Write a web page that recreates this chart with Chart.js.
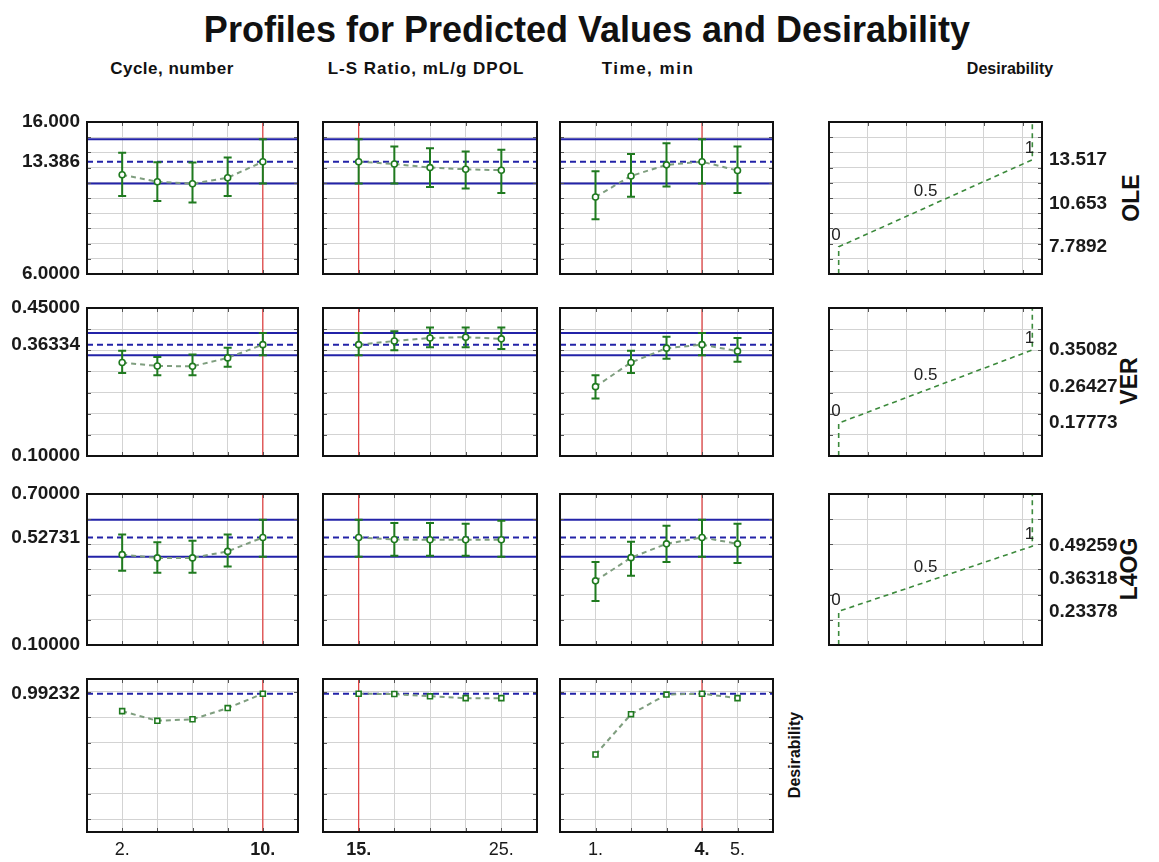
<!DOCTYPE html>
<html><head><meta charset="utf-8">
<script src="https://cdn.jsdelivr.net/npm/chart.js@4.4.1/dist/chart.umd.min.js"></script>
<style>
body{margin:0;background:#fff;width:1159px;height:862px;position:relative;overflow:hidden;font-family:"Liberation Sans",Arial,sans-serif;}
.t{position:absolute;white-space:nowrap;color:#111;font-weight:bold;transform:translate(-50%,-50%);}
.r{position:absolute;white-space:nowrap;color:#111;font-weight:bold;transform:translate(-50%,-50%) rotate(-90deg);}
canvas{position:absolute;}
</style></head><body>
<div class="t" style="left:587px;top:30px;font-size:36px;">Profiles for Predicted Values and Desirability</div>
<div class="t" style="left:172px;top:69px;font-size:17px;letter-spacing:0.5px;">Cycle, number</div>
<div class="t" style="left:426px;top:69px;font-size:17px;letter-spacing:1px;">L-S Ratio, mL/g DPOL</div>
<div class="t" style="left:648px;top:69px;font-size:17px;letter-spacing:1.5px;">Time, min</div>
<div class="t" style="left:1010px;top:69px;font-size:16px;">Desirability</div>
<div class="r" style="left:1131px;top:198px;font-size:23px;">OLE</div>
<div class="r" style="left:1129px;top:381px;font-size:23px;">VER</div>
<div class="r" style="left:1129px;top:569px;font-size:23px;">L4OG</div>
<div class="r" style="left:795px;top:755px;font-size:16px;">Desirability</div>
<script>
// ---------- factor levels ----------
const cycleX = [2, 4, 6, 8, 10];
const ratioX = [15, 17.5, 20, 22.5, 25];
const timeX  = [1, 2, 3, 4, 5];
const currentX = [10, 15, 4];
const cycleLabeled = [2, 10];
const ratioLabeled = [15, 25];
const timeLabeled  = [1, 4, 5];

// ---------- OLE ----------
const oleCycle   = [12.53, 12.07, 11.94, 12.33, 13.386];
const oleCycleLo = [11.13, 10.81, 10.70, 11.13, 11.95];
const oleCycleHi = [13.98, 13.35, 13.33, 13.66, 14.86];
const oleRatio   = [13.386, 13.24, 13.00, 12.89, 12.83];
const oleRatioLo = [11.95, 11.95, 11.73, 11.62, 11.33];
const oleRatioHi = [14.86, 14.39, 14.28, 14.06, 14.17];
const oleTime    = [11.07, 12.45, 13.18, 13.386, 12.81];
const oleTimeLo  = [9.60, 11.09, 11.76, 11.95, 11.33];
const oleTimeHi  = [12.76, 13.90, 14.60, 14.86, 14.39];
const oleBand = [11.95, 14.86];
const oleTickVals = [16, 13.386, 6];
const oleTickText = ['16.000', '13.386', '6.0000'];
const oleDesVals = [7.7892, 10.653, 13.517];
const oleDesText = ['7.7892', '10.653', '13.517'];

// ---------- VER ----------
const verCycle   = [0.321, 0.313, 0.312, 0.332, 0.36334];
const verCycleLo = [0.296, 0.291, 0.291, 0.311, 0.338];
const verCycleHi = [0.349, 0.334, 0.340, 0.356, 0.391];
const verRatio   = [0.36334, 0.372, 0.379, 0.381, 0.377];
const verRatioLo = [0.338, 0.350, 0.357, 0.357, 0.353];
const verRatioHi = [0.391, 0.395, 0.404, 0.404, 0.404];
const verTime    = [0.264, 0.321, 0.355, 0.36334, 0.348];
const verTimeLo  = [0.236, 0.296, 0.330, 0.338, 0.323];
const verTimeHi  = [0.291, 0.349, 0.382, 0.391, 0.379];
const verBand = [0.338, 0.391];
const verTickVals = [0.45, 0.36334, 0.10];
const verTickText = ['0.45000', '0.36334', '0.10000'];
const verDesVals = [0.17773, 0.26427, 0.35082];
const verDesText = ['0.17773', '0.26427', '0.35082'];

// ---------- L4OG ----------
const l4Cycle   = [0.459, 0.446, 0.446, 0.472, 0.52731];
const l4CycleLo = [0.395, 0.387, 0.387, 0.412, 0.451];
const l4CycleHi = [0.539, 0.508, 0.514, 0.539, 0.598];
const l4Ratio   = [0.52731, 0.519, 0.518, 0.518, 0.518];
const l4RatioLo = [0.451, 0.455, 0.455, 0.455, 0.451];
const l4RatioHi = [0.598, 0.585, 0.585, 0.582, 0.594];
const l4Time    = [0.355, 0.447, 0.502, 0.52731, 0.502];
const l4TimeLo  = [0.275, 0.375, 0.430, 0.451, 0.426];
const l4TimeHi  = [0.430, 0.510, 0.574, 0.598, 0.582];
const l4Band = [0.451, 0.598];
const l4TickVals = [0.70, 0.52731, 0.10];
const l4TickText = ['0.70000', '0.52731', '0.10000'];
const l4DesVals = [0.23378, 0.36318, 0.49259];
const l4DesText = ['0.23378', '0.36318', '0.49259'];

// ---------- Desirability ----------
const desCycle = [0.924, 0.886, 0.892, 0.936, 0.99232];
const desRatio = [0.99232, 0.991, 0.982, 0.975, 0.975];
const desTime  = [0.754, 0.912, 0.989, 0.99232, 0.975];
const desTickVals = [0.99232];
const desTickText = ['0.99232'];

// desirability function levels
const desLevels = [0, 0.5, 1];
const desLevelText = ['0', '0.5', '1'];

// ---------- axes ----------
const yRanges = [[6, 16], [0.10, 0.45], [0.10, 0.70], [0.45, 1.05]];
const yGrid = [
  [7, 8, 9, 10, 11, 12, 13, 14, 15],
  [0.15, 0.20, 0.25, 0.30, 0.35, 0.40],
  [0.2, 0.3, 0.4, 0.5, 0.6],
  [0.5, 0.6, 0.7, 0.8, 0.9, 1.0]
];
const xRanges = [[0, 12], [12.5, 27.5], [0, 6], [-0.05, 1.05]];
const desXGrid = [0.15, 0.35, 0.55, 0.75, 0.95];

// ---------- layout (plot area rectangles) ----------
const colX = [87, 323, 560, 829], colW = [211, 214, 213, 213];
const rowY = [122, 308, 494, 679], rowH = [152, 148, 151, 153];

const GRID = '#d3d3d3', GREEN = '#1f7a1f', LINEG = '#7f9e7f', BLUE = '#2323a8', RED = '#e23a3a';
Chart.defaults.font.family = '"Liberation Sans", Arial, sans-serif';

const xs = [cycleX, ratioX, timeX];
const xLab = [cycleLabeled, ratioLabeled, timeLabeled];
const rows = [
  {y: [oleCycle, oleRatio, oleTime], lo: [oleCycleLo, oleRatioLo, oleTimeLo], hi: [oleCycleHi, oleRatioHi, oleTimeHi], band: oleBand, tv: oleTickVals, tt: oleTickText, dv: oleDesVals, dt: oleDesText},
  {y: [verCycle, verRatio, verTime], lo: [verCycleLo, verRatioLo, verTimeLo], hi: [verCycleHi, verRatioHi, verTimeHi], band: verBand, tv: verTickVals, tt: verTickText, dv: verDesVals, dt: verDesText},
  {y: [l4Cycle, l4Ratio, l4Time], lo: [l4CycleLo, l4RatioLo, l4TimeLo], hi: [l4CycleHi, l4RatioHi, l4TimeHi], band: l4Band, tv: l4TickVals, tt: l4TickText, dv: l4DesVals, dt: l4DesText},
  {y: [desCycle, desRatio, desTime], lo: null, hi: null, band: null, tv: desTickVals, tt: desTickText, dv: null, dt: null}
];

const near = (a, b) => Math.abs(a - b) < 1e-9;
const inList = (v, list) => list.some(l => near(l, v));

function makePanel(r, c) {
  const R = rows[r];
  const L = c === 0 ? colX[0] : 6;
  const RR = c === 3 ? 115 : 6;
  const T = 24;
  const B = r === 3 ? 30 : 24;
  const W = colW[c] + L + RR, H = rowH[r] + T + B;
  const cv = document.createElement('canvas');
  cv.width = W; cv.height = H;
  cv.style.left = (colX[c] - L) + 'px'; cv.style.top = (rowY[r] - T) + 'px';
  cv.style.width = W + 'px'; cv.style.height = H + 'px';
  document.body.appendChild(cv);

  const [ymin, ymax] = yRanges[r];
  const [xmin, xmax] = xRanges[c];
  const datasets = [];
  let yTickVals, yTickText, xGridVals, errX = null, errLo = null, errHi = null, labelPts = null;

  if (c < 3) {
    const X = xs[c];
    datasets.push({data: X.map((x, i) => ({x, y: R.y[c][i]})), showLine: true, borderColor: LINEG, borderWidth: 2,
      borderDash: [5, 4], pointStyle: r === 3 ? 'rect' : 'circle', pointRadius: r === 3 ? 3.5 : 3,
      pointBorderColor: GREEN, pointBackgroundColor: '#fff', pointBorderWidth: 1.6, order: 0});
    datasets.push({data: [{x: currentX[c], y: ymin}, {x: currentX[c], y: ymax}], showLine: true, borderColor: RED, borderWidth: 1.2, pointRadius: 0, order: 1});
    const pred = R.tv[r === 3 ? 0 : 1];
    datasets.push({data: [{x: xmin, y: pred}, {x: xmax, y: pred}], showLine: true, borderColor: BLUE, borderWidth: 2, borderDash: [6, 4], pointRadius: 0, order: 2});
    if (R.band) {
      R.band.forEach(b => datasets.push({data: [{x: xmin, y: b}, {x: xmax, y: b}], showLine: true, borderColor: BLUE, borderWidth: 2, pointRadius: 0, order: 2}));
      errX = X; errLo = R.lo[c]; errHi = R.hi[c];
    }
    xGridVals = X;
    yTickVals = c === 0 ? R.tv : [];
    yTickText = c === 0 ? R.tt : [];
  } else {
    const pts = [{x: desLevels[0], y: ymin}].concat(desLevels.map((d, i) => ({x: d, y: R.dv[i]}))).concat([{x: desLevels[2], y: ymax}]);
    datasets.push({data: pts, showLine: true, borderColor: '#3c8a3c', borderWidth: 1.6, borderDash: [5, 4], pointRadius: 0, order: 0});
    xGridVals = desXGrid;
    yTickVals = R.dv; yTickText = R.dt;
    labelPts = desLevels.map((d, i) => ({x: d, y: R.dv[i], t: desLevelText[i]}));
  }
  const yAll = yGrid[r].concat(yTickVals).sort((a, b) => a - b);

  const plug = {
    id: 'panel' + r + c,
    beforeDatasetDraw(chart, args) {
      if (!errX || args.index !== 0) return;
      const ctx = chart.ctx, xsS = chart.scales.x, ysS = chart.scales.y;
      ctx.save(); ctx.strokeStyle = GREEN; ctx.lineWidth = 2;
      errX.forEach((x, i) => {
        const px = xsS.getPixelForValue(x), p1 = ysS.getPixelForValue(errLo[i]), p2 = ysS.getPixelForValue(errHi[i]);
        ctx.beginPath();
        ctx.moveTo(px, p1); ctx.lineTo(px, p2);
        ctx.moveTo(px - 4, p1); ctx.lineTo(px + 4, p1);
        ctx.moveTo(px - 4, p2); ctx.lineTo(px + 4, p2);
        ctx.stroke();
      });
      ctx.restore();
    },
    afterDraw(chart) {
      const ctx = chart.ctx, a = chart.chartArea, xsS = chart.scales.x, ysS = chart.scales.y;
      ctx.save();
      ctx.strokeStyle = '#555'; ctx.lineWidth = 1;
      ctx.beginPath();
      xGridVals.forEach(v => {
        const px = Math.round(xsS.getPixelForValue(v)) + 0.5;
        ctx.moveTo(px, a.top); ctx.lineTo(px, a.top + 4);
        ctx.moveTo(px, a.bottom); ctx.lineTo(px, a.bottom - 4);
      });
      yGrid[r].forEach(v => {
        const py = Math.round(ysS.getPixelForValue(v)) + 0.5;
        ctx.moveTo(a.left, py); ctx.lineTo(a.left + 4, py);
        ctx.moveTo(a.right, py); ctx.lineTo(a.right - 4, py);
      });
      ctx.stroke();
      ctx.strokeStyle = '#111'; ctx.lineWidth = 2;
      ctx.strokeRect(a.left, a.top, a.right - a.left, a.bottom - a.top);
      if (labelPts) {
        ctx.fillStyle = '#222'; ctx.font = '17px "Liberation Sans", Arial, sans-serif';
        ctx.textAlign = 'right'; ctx.textBaseline = 'bottom';
        labelPts.forEach(p => ctx.fillText(p.t, xsS.getPixelForValue(p.x) + 2, ysS.getPixelForValue(p.y) - 3));
      }
      ctx.restore();
    }
  };

  new Chart(cv, {
    type: 'scatter',
    data: {datasets},
    options: {
      responsive: false, animation: false, devicePixelRatio: 1,
      layout: {padding: {top: T, bottom: 0, left: c === 3 ? L : 0, right: c === 3 ? 0 : RR}},
      plugins: {legend: {display: false}, tooltip: {enabled: false}},
      scales: {
        x: {
          type: 'linear', min: xmin, max: xmax,
          afterBuildTicks: s => { s.ticks = xGridVals.map(v => ({value: v})); },
          afterFit: s => { s.height = B; },
          grid: {color: GRID, drawTicks: false, lineWidth: 1},
          border: {display: false},
          ticks: {
            display: r === 3 && c < 3, autoSkip: false, maxRotation: 0, minRotation: 0, padding: 7, color: '#1a1a1a',
            callback: v => (c < 3 && inList(v, xLab[c])) ? (v + '.') : '',
            font: ctx => ({size: 18, weight: (ctx.tick && c < 3 && near(ctx.tick.value, currentX[c])) ? 'bold' : 'normal'})
          }
        },
        y: {
          type: 'linear', position: c === 3 ? 'right' : 'left', min: ymin, max: ymax,
          afterBuildTicks: s => { s.ticks = yAll.map(v => ({value: v})); },
          afterFit: s => { s.width = c === 3 ? RR : L; },
          grid: {drawTicks: false, lineWidth: 1,
            color: ctx => (ctx.tick && inList(ctx.tick.value, yGrid[r])) ? GRID : 'rgba(0,0,0,0)'},
          border: {display: false},
          ticks: {
            display: c === 0 || c === 3, autoSkip: false, padding: 7, color: '#1a1a1a',
            font: {size: 19, weight: 'bold'},
            callback: v => { const i = yTickVals.findIndex(t => near(t, v)); return i >= 0 ? yTickText[i] : ''; }
          }
        }
      }
    },
    plugins: [plug]
  });
}

for (let r = 0; r < 4; r++) for (let c = 0; c < 4; c++) { if (!(r === 3 && c === 3)) makePanel(r, c); }
</script>
</body></html>
